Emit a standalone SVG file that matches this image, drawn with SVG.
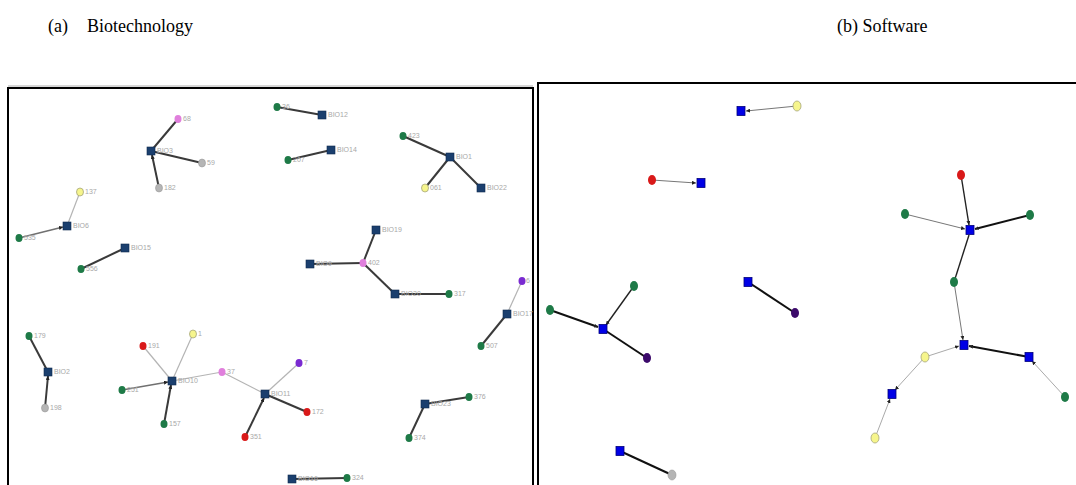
<svg xmlns="http://www.w3.org/2000/svg" width="1076" height="485" viewBox="0 0 1076 485">
<style>
.title{font-family:"Liberation Serif","Times New Roman",serif;font-size:18px;fill:#000}
.lbl{font-family:"Liberation Sans",Arial,sans-serif;font-size:7px;fill:#a8a8a8}
.frame{fill:none;stroke:#000;stroke-width:2}
.dk{stroke:#3a3a3a;stroke-width:2;fill:none}
.lt{stroke:#b4b4b4;stroke-width:1.2;fill:none}
.md{stroke:#707070;stroke-width:1.4;fill:none}
.bk{stroke:#111;stroke-width:2;fill:none}
.bm{stroke:#222;stroke-width:1.4;fill:none}
.tg{stroke:#777;stroke-width:1;fill:none}
.tl{stroke:#aaa;stroke-width:1;fill:none}
.sq{fill:#1b3f6e;stroke:#0f2a4d;stroke-width:0.6}
.bsq{fill:#0000e6;stroke:#00007a;stroke-width:0.8}
.g{fill:#1e7a47}
.p{fill:#e07fdc}
.gy{fill:#b5b5b5;stroke:#999;stroke-width:0.6}
.y{fill:#f6f58c;stroke:#a5a57a;stroke-width:0.8}
.r{fill:#d91919}
.pu{fill:#7a2bd1}
.dp{fill:#3c0a6b}
</style>
<defs>
<marker id="ah" viewBox="0 0 10 10" refX="10" refY="5" markerWidth="4" markerHeight="4" orient="auto" markerUnits="userSpaceOnUse"><path d="M0,0 L10,5 L0,10 z" fill="#222"/></marker>
</defs>
<text class="title" x="48" y="32">(a)</text>
<text class="title" x="87" y="32">Biotechnology</text>
<text class="title" x="837" y="32">(b) Software</text>
<g id="frames">
<line x1="8" y1="86" x2="533" y2="86" stroke="#999" stroke-width="0.8"/>
<rect class="frame" x="8" y="88" width="525" height="410"/>
<rect class="frame" x="538" y="83" width="550" height="415"/>
</g>
<g id="connectors">
<line class="dk" x1="151" y1="151" x2="178" y2="119"/>
<line class="dk" x1="151" y1="151" x2="202" y2="163"/>
<line class="dk" x1="159" y1="188" x2="152" y2="155" marker-end="url(#ah)"/>
<line class="dk" x1="277" y1="107" x2="322" y2="115"/>
<line class="dk" x1="288" y1="160" x2="331" y2="150"/>
<line class="dk" x1="403" y1="136" x2="450" y2="157"/>
<line class="dk" x1="450" y1="157" x2="425" y2="188"/>
<line class="dk" x1="450" y1="157" x2="481" y2="188"/>
<line class="lt" x1="80" y1="192" x2="67" y2="226"/>
<line class="md" x1="19" y1="238" x2="63" y2="227" marker-end="url(#ah)"/>
<line class="dk" x1="81" y1="269" x2="125" y2="248"/>
<line class="dk" x1="363" y1="263" x2="376" y2="230"/>
<line class="dk" x1="363" y1="263" x2="310" y2="264"/>
<line class="dk" x1="363" y1="263" x2="395" y2="294"/>
<line class="dk" x1="395" y1="294" x2="449" y2="294"/>
<line class="lt" x1="522" y1="281" x2="507" y2="314"/>
<line class="dk" x1="507" y1="314" x2="481" y2="346"/>
<line class="dk" x1="29" y1="336" x2="48" y2="372"/>
<line class="dk" x1="45" y1="408" x2="48" y2="376" marker-end="url(#ah)"/>
<line class="lt" x1="143" y1="346" x2="172" y2="381"/>
<line class="lt" x1="193" y1="334" x2="172" y2="381"/>
<line class="md" x1="122" y1="390" x2="168" y2="382" marker-end="url(#ah)"/>
<line class="dk" x1="164" y1="424" x2="171" y2="385" marker-end="url(#ah)"/>
<line class="lt" x1="172" y1="381" x2="222" y2="372"/>
<line class="lt" x1="222" y1="372" x2="265" y2="394"/>
<line class="lt" x1="299" y1="363" x2="265" y2="394"/>
<line class="dk" x1="265" y1="394" x2="307" y2="412"/>
<line class="dk" x1="245" y1="437" x2="264" y2="398" marker-end="url(#ah)"/>
<line class="dk" x1="425" y1="404" x2="469" y2="397"/>
<line class="dk" x1="425" y1="404" x2="409" y2="438"/>
<line class="dk" x1="292" y1="479" x2="347" y2="478"/>
<line class="tg" x1="797" y1="106" x2="746" y2="111" marker-end="url(#ah)"/>
<line class="tg" x1="652" y1="180" x2="696" y2="183" marker-end="url(#ah)"/>
<line class="bm" x1="961" y1="175" x2="969" y2="225" marker-end="url(#ah)"/>
<line class="tg" x1="905" y1="214" x2="965" y2="229" marker-end="url(#ah)"/>
<line class="bk" x1="1030" y1="215" x2="975" y2="229" marker-end="url(#ah)"/>
<line class="bm" x1="954" y1="282" x2="969" y2="235"/>
<line class="tg" x1="954" y1="282" x2="963" y2="340" marker-end="url(#ah)"/>
<line class="bk" x1="1029" y1="357" x2="969" y2="346" marker-end="url(#ah)"/>
<line class="tl" x1="1065" y1="397" x2="1032" y2="361" marker-end="url(#ah)"/>
<line class="tl" x1="925" y1="357" x2="959" y2="346" marker-end="url(#ah)"/>
<line class="tl" x1="925" y1="357" x2="895" y2="390" marker-end="url(#ah)"/>
<line class="tl" x1="875" y1="438" x2="890" y2="399" marker-end="url(#ah)"/>
<line class="bk" x1="550" y1="310" x2="598" y2="327" marker-end="url(#ah)"/>
<line class="bm" x1="634" y1="286" x2="606" y2="325" marker-end="url(#ah)"/>
<line class="bk" x1="647" y1="358" x2="603" y2="329"/>
<line class="bk" x1="795" y1="313" x2="748" y2="282"/>
<line class="bk" x1="672" y1="475" x2="620" y2="451"/>
</g>
<g id="n-68"><ellipse class="p" cx="178" cy="119" rx="3.5" ry="4"/><text class="lbl" x="183" y="121">68</text></g>
<g id="n-BIO3"><rect class="sq" x="147" y="147" width="8" height="8"/><text class="lbl" x="157" y="153">BIO3</text></g>
<g id="n-59"><ellipse class="gy" cx="202" cy="163" rx="3.5" ry="4"/><text class="lbl" x="207" y="165">59</text></g>
<g id="n-182"><ellipse class="gy" cx="159" cy="188" rx="3.5" ry="4"/><text class="lbl" x="164" y="190">182</text></g>
<g id="n-36"><ellipse class="g" cx="277" cy="107" rx="3.5" ry="4"/><text class="lbl" x="282" y="109">36</text></g>
<g id="n-BIO12"><rect class="sq" x="318" y="111" width="8" height="8"/><text class="lbl" x="328" y="117">BIO12</text></g>
<g id="n-BIO14"><rect class="sq" x="327" y="146" width="8" height="8"/><text class="lbl" x="337" y="152">BIO14</text></g>
<g id="n-207"><ellipse class="g" cx="288" cy="160" rx="3.5" ry="4"/><text class="lbl" x="293" y="162">207</text></g>
<g id="n-423"><ellipse class="g" cx="403" cy="136" rx="3.5" ry="4"/><text class="lbl" x="408" y="138">423</text></g>
<g id="n-BIO1"><rect class="sq" x="446" y="153" width="8" height="8"/><text class="lbl" x="456" y="159">BIO1</text></g>
<g id="n-061"><ellipse class="y" cx="425" cy="188" rx="3.5" ry="4"/><text class="lbl" x="430" y="190">061</text></g>
<g id="n-BIO22"><rect class="sq" x="477" y="184" width="8" height="8"/><text class="lbl" x="487" y="190">BIO22</text></g>
<g id="n-137"><ellipse class="y" cx="80" cy="192" rx="3.5" ry="4"/><text class="lbl" x="85" y="194">137</text></g>
<g id="n-BIO6"><rect class="sq" x="63" y="222" width="8" height="8"/><text class="lbl" x="73" y="228">BIO6</text></g>
<g id="n-535"><ellipse class="g" cx="19" cy="238" rx="3.5" ry="4"/><text class="lbl" x="24" y="240">535</text></g>
<g id="n-BIO15"><rect class="sq" x="121" y="244" width="8" height="8"/><text class="lbl" x="131" y="250">BIO15</text></g>
<g id="n-556"><ellipse class="g" cx="81" cy="269" rx="3.5" ry="4"/><text class="lbl" x="86" y="271">556</text></g>
<g id="n-BIO19"><rect class="sq" x="372" y="226" width="8" height="8"/><text class="lbl" x="382" y="232">BIO19</text></g>
<g id="n-BIO9"><rect class="sq" x="306" y="260" width="8" height="8"/><text class="lbl" x="316" y="266">BIO9</text></g>
<g id="n-402"><ellipse class="p" cx="363" cy="263" rx="3.5" ry="4"/><text class="lbl" x="368" y="265">402</text></g>
<g id="n-BIO20"><rect class="sq" x="391" y="290" width="8" height="8"/><text class="lbl" x="401" y="296">BIO20</text></g>
<g id="n-317"><ellipse class="g" cx="449" cy="294" rx="3.5" ry="4"/><text class="lbl" x="454" y="296">317</text></g>
<g id="n-6"><ellipse class="pu" cx="522" cy="281" rx="3.5" ry="4"/><text class="lbl" x="526" y="283">6</text></g>
<g id="n-BIO17"><rect class="sq" x="503" y="310" width="8" height="8"/><text class="lbl" x="513" y="316">BIO17</text></g>
<g id="n-507"><ellipse class="g" cx="481" cy="346" rx="3.5" ry="4"/><text class="lbl" x="486" y="348">507</text></g>
<g id="n-179"><ellipse class="g" cx="29" cy="336" rx="3.5" ry="4"/><text class="lbl" x="34" y="338">179</text></g>
<g id="n-BIO2"><rect class="sq" x="44" y="368" width="8" height="8"/><text class="lbl" x="54" y="374">BIO2</text></g>
<g id="n-198"><ellipse class="gy" cx="45" cy="408" rx="3.5" ry="4"/><text class="lbl" x="50" y="410">198</text></g>
<g id="n-191"><ellipse class="r" cx="143" cy="346" rx="3.5" ry="4"/><text class="lbl" x="148" y="348">191</text></g>
<g id="n-1"><ellipse class="y" cx="193" cy="334" rx="3.5" ry="4"/><text class="lbl" x="198" y="336">1</text></g>
<g id="n-BIO10"><rect class="sq" x="168" y="377" width="8" height="8"/><text class="lbl" x="178" y="383">BIO10</text></g>
<g id="n-251"><ellipse class="g" cx="122" cy="390" rx="3.5" ry="4"/><text class="lbl" x="127" y="392">251</text></g>
<g id="n-157"><ellipse class="g" cx="164" cy="424" rx="3.5" ry="4"/><text class="lbl" x="169" y="426">157</text></g>
<g id="n-37"><ellipse class="p" cx="222" cy="372" rx="3.5" ry="4"/><text class="lbl" x="227" y="374">37</text></g>
<g id="n-7"><ellipse class="pu" cx="299" cy="363" rx="3.5" ry="4"/><text class="lbl" x="304" y="365">7</text></g>
<g id="n-BIO11"><rect class="sq" x="261" y="390" width="8" height="8"/><text class="lbl" x="271" y="396">BIO11</text></g>
<g id="n-172"><ellipse class="r" cx="307" cy="412" rx="3.5" ry="4"/><text class="lbl" x="312" y="414">172</text></g>
<g id="n-351"><ellipse class="r" cx="245" cy="437" rx="3.5" ry="4"/><text class="lbl" x="250" y="439">351</text></g>
<g id="n-BIO23"><rect class="sq" x="421" y="400" width="8" height="8"/><text class="lbl" x="431" y="406">BIO23</text></g>
<g id="n-376"><ellipse class="g" cx="469" cy="397" rx="3.5" ry="4"/><text class="lbl" x="474" y="399">376</text></g>
<g id="n-374"><ellipse class="g" cx="409" cy="438" rx="3.5" ry="4"/><text class="lbl" x="414" y="440">374</text></g>
<g id="n-BIO16"><rect class="sq" x="288" y="475" width="8" height="8"/><text class="lbl" x="298" y="481">BIO16</text></g>
<g id="n-324"><ellipse class="g" cx="347" cy="478" rx="3.5" ry="4"/><text class="lbl" x="352" y="480">324</text></g>
<g id="s-a"><rect class="bsq" x="737" y="106.5" width="8" height="9"/></g>
<g id="s-b"><ellipse class="y" cx="797" cy="106" rx="4" ry="5"/></g>
<g id="s-c"><ellipse class="r" cx="652" cy="180" rx="4" ry="5"/></g>
<g id="s-d"><rect class="bsq" x="697" y="178.5" width="8" height="9"/></g>
<g id="s-e"><ellipse class="r" cx="961" cy="175" rx="4" ry="5"/></g>
<g id="s-f"><ellipse class="g" cx="905" cy="214" rx="4" ry="5"/></g>
<g id="s-g"><rect class="bsq" x="966" y="225.5" width="8" height="9"/></g>
<g id="s-h"><ellipse class="g" cx="1030" cy="215" rx="4" ry="5"/></g>
<g id="s-i"><ellipse class="g" cx="954" cy="282" rx="4" ry="5"/></g>
<g id="s-j"><rect class="bsq" x="960" y="340.5" width="8" height="9"/></g>
<g id="s-k"><ellipse class="y" cx="925" cy="357" rx="4" ry="5"/></g>
<g id="s-l"><rect class="bsq" x="1025" y="352.5" width="8" height="9"/></g>
<g id="s-m"><ellipse class="g" cx="1065" cy="397" rx="4" ry="5"/></g>
<g id="s-n"><rect class="bsq" x="888" y="389.5" width="8" height="9"/></g>
<g id="s-o"><ellipse class="y" cx="875" cy="438" rx="4" ry="5"/></g>
<g id="s-p"><ellipse class="g" cx="550" cy="310" rx="4" ry="5"/></g>
<g id="s-q"><rect class="bsq" x="599" y="324.5" width="8" height="9"/></g>
<g id="s-r"><ellipse class="g" cx="634" cy="286" rx="4" ry="5"/></g>
<g id="s-s"><ellipse class="dp" cx="647" cy="358" rx="4" ry="5"/></g>
<g id="s-t"><rect class="bsq" x="744" y="277.5" width="8" height="9"/></g>
<g id="s-u"><ellipse class="dp" cx="795" cy="313" rx="4" ry="5"/></g>
<g id="s-v"><rect class="bsq" x="616" y="446.5" width="8" height="9"/></g>
<g id="s-w"><ellipse class="gy" cx="672" cy="475" rx="4" ry="5"/></g>
</svg>
